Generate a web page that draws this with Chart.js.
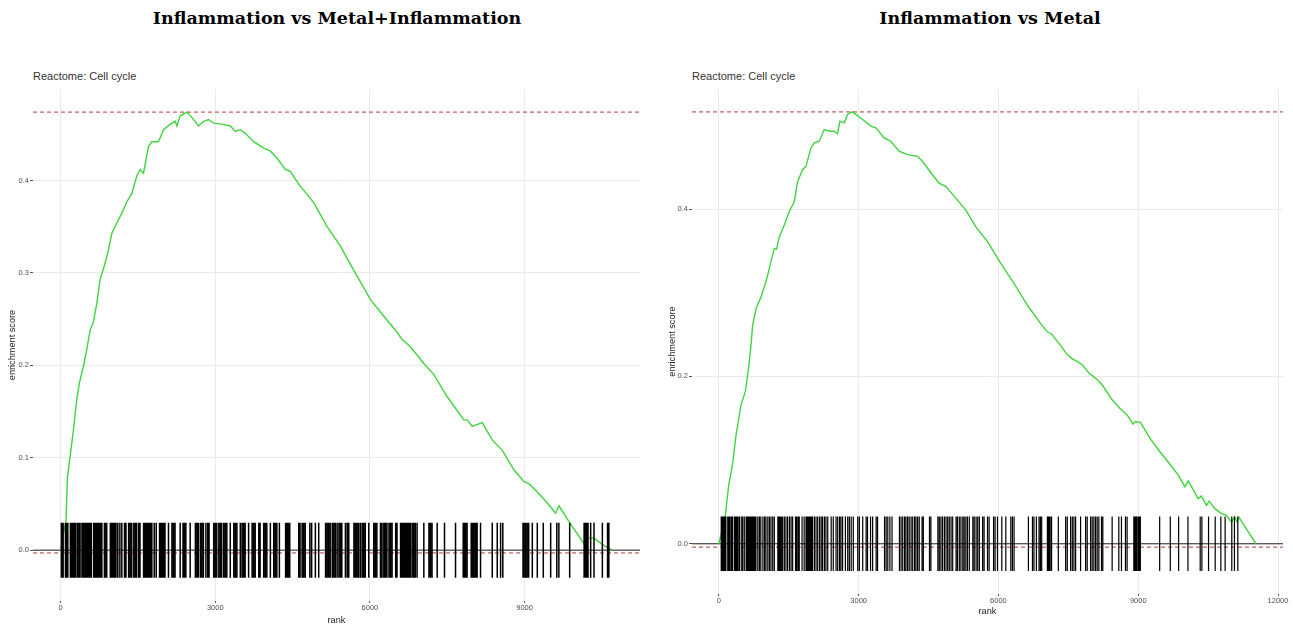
<!DOCTYPE html>
<html>
<head>
<meta charset="utf-8">
<script src="https://cdn.jsdelivr.net/npm/chart.js@4.4.1/dist/chart.umd.min.js"></script>
<style>
  body { margin: 0; background: #fff; width: 1293px; height: 626px; position: relative; overflow: hidden; }
  .title { position: absolute; top: 8px; line-height: 20px; font: bold 17.5px "DejaVu Serif", serif; color: #000; transform: translateX(-50%); white-space: nowrap; }
  .sub { position: absolute; top: 70px; font: 11px "Liberation Sans", Arial, sans-serif; color: #333; white-space: nowrap; }
  .panel { position: absolute; top: 60px; height: 566px; }
</style>
</head>
<body>
<div class="title" style="left:337px">Inflammation vs Metal+Inflammation</div>
<div class="title" style="left:990px">Inflammation vs Metal</div>
<div class="sub" style="left:33px">Reactome: Cell cycle</div>
<div class="sub" style="left:692px">Reactome: Cell cycle</div>
<div class="panel" style="left:0;width:646px"><canvas id="left"></canvas></div>
<div class="panel" style="left:650px;width:643px"><canvas id="right"></canvas></div>
<script>
// running enrichment score (rank, ES)
const leftRank = [0, 107, 132, 184, 249, 314, 365, 443, 508, 573, 637, 703, 767, 845, 929, 994, 1091, 1189, 1285, 1382,
  1480, 1544, 1608, 1705, 1771, 1900, 1997, 2127, 2224, 2256, 2320, 2450, 2548, 2677, 2774, 2871, 2968, 3130, 3292, 3389,
  3486, 3583, 3745, 3939, 4068, 4199, 4360, 4457, 4618, 4910, 5170, 5428, 5686, 6011, 6302, 6496, 6626, 6787, 7046, 7240,
  7500, 7822, 7888, 7985, 8180, 8374, 8568, 8794, 8988, 9085, 9248, 9442, 9603, 9667, 9862, 10153, 10218, 10347, 10541, 10704];
const leftES = [0.0, 0.033, 0.079, 0.101, 0.130, 0.163, 0.181, 0.199, 0.217, 0.238, 0.247, 0.267, 0.293, 0.307, 0.325, 0.343, 0.354, 0.365, 0.377, 0.386,
  0.405, 0.412, 0.408, 0.437, 0.442, 0.442, 0.455, 0.461, 0.464, 0.459, 0.470, 0.474, 0.468, 0.459, 0.464, 0.466, 0.462, 0.461, 0.459, 0.453,
  0.455, 0.451, 0.442, 0.435, 0.432, 0.424, 0.412, 0.410, 0.396, 0.376, 0.350, 0.329, 0.303, 0.271, 0.251, 0.238, 0.228, 0.220, 0.202, 0.190,
  0.166, 0.141, 0.141, 0.134, 0.138, 0.119, 0.108, 0.087, 0.074, 0.072, 0.063, 0.051, 0.040, 0.048, 0.031, 0.007, 0.013, 0.013, 0.005, 0.0];

const rightRank = [0, 139, 210, 296, 368, 476, 568, 639, 690, 725, 797, 904, 1011, 1082, 1189, 1239, 1297, 1404, 1511, 1618,
  1690, 1797, 1869, 1976, 2047, 2154, 2261, 2368, 2475, 2546, 2597, 2690, 2761, 2855, 2940, 3083, 3262, 3369, 3547, 3690,
  3868, 4047, 4261, 4368, 4582, 4725, 4868, 5083, 5297, 5511, 5765, 6051, 6336, 6621, 6907, 7049, 7135, 7291, 7477, 7584,
  7691, 7798, 7941, 8084, 8226, 8440, 8619, 8761, 8890, 8940, 9047, 9253, 9467, 9681, 9859, 10002, 10073, 10287, 10358, 10465,
  10523, 10645, 10787, 10894, 11001, 11073, 11122, 11158, 11530];
const rightES = [0.0, 0.034, 0.070, 0.096, 0.130, 0.166, 0.182, 0.210, 0.238, 0.261, 0.281, 0.295, 0.313, 0.329, 0.353, 0.352, 0.367, 0.381, 0.397, 0.409,
  0.433, 0.447, 0.451, 0.473, 0.479, 0.481, 0.495, 0.493, 0.493, 0.490, 0.505, 0.503, 0.513, 0.516, 0.513, 0.507, 0.499, 0.497, 0.485, 0.481,
  0.469, 0.465, 0.463, 0.457, 0.441, 0.431, 0.427, 0.413, 0.399, 0.379, 0.361, 0.335, 0.311, 0.285, 0.263, 0.253, 0.251, 0.240, 0.226, 0.221,
  0.218, 0.214, 0.204, 0.198, 0.190, 0.172, 0.161, 0.154, 0.143, 0.146, 0.145, 0.126, 0.110, 0.095, 0.082, 0.068, 0.075, 0.054, 0.057, 0.046,
  0.051, 0.042, 0.036, 0.034, 0.026, 0.032, 0.026, 0.032, 0.0];

// ranks of pathway genes (the barcode)
const leftHits = [15, 35, 50, 95, 115, 140, 190, 210, 235, 255, 280, 295, 330, 360, 378, 415, 435, 455, 475, 495, 515, 535, 555, 575, 595,
  640, 660, 680, 700, 720, 740, 760, 780, 800, 850, 880, 895, 965, 990, 1010, 1035, 1055, 1075, 1110, 1150, 1188, 1240, 1268,
  1320, 1350, 1380, 1420, 1450, 1475, 1515, 1540, 1610, 1630, 1650, 1670, 1690, 1710, 1730, 1750, 1770, 1816, 1855, 1920, 1940,
  1960, 1980, 2000, 2025, 2093, 2160, 2190, 2220, 2320, 2375, 2400, 2430, 2514, 2615, 2645, 2670, 2710, 2740, 2770, 2819, 2855,
  2880, 2970, 3000, 3030, 3070, 3100, 3125, 3165, 3195, 3225, 3291, 3360, 3390, 3420, 3486, 3520, 3550, 3580, 3647, 3715, 3745,
  3775, 3845, 3870, 3940, 3970, 4000, 4069, 4135, 4165, 4195, 4244, 4365, 4385, 4405, 4425, 4445, 4620, 4645, 4685, 4715, 4745,
  4835, 4870, 4942, 5007, 5140, 5170, 5200, 5230, 5270, 5300, 5330, 5365, 5400, 5430, 5455, 5525, 5560, 5590, 5690, 5720, 5750,
  5780, 5815, 5850, 5880, 5910, 5978, 6075, 6105, 6135, 6205, 6235, 6270, 6285, 6300, 6330, 6370, 6400, 6430, 6500, 6525, 6595,
  6615, 6635, 6655, 6675, 6695, 6715, 6735, 6760, 6785, 6820, 6850, 6880, 6915, 7046, 7145, 7175, 7205, 7305, 7447, 7661, 7810,
  7830, 7855, 7885, 7965, 7990, 8010, 8040, 8060, 8080, 8146, 8373, 8470, 8535, 8578, 8970, 8990, 9020, 9050, 9080, 9150, 9247,
  9363, 9506, 9625, 9665, 9875, 10155, 10180, 10205, 10230, 10282, 10347, 10509, 10610, 10635];

const rightHits = [50, 75, 100, 125, 150, 190, 215, 240, 270, 295, 335, 360, 385, 410, 440, 480, 510, 545, 585, 605, 625, 645, 665,
  685, 705, 725, 750, 775, 795, 835, 870, 900, 945, 980, 1010, 1050, 1085, 1118, 1155, 1190, 1265, 1290, 1315, 1340, 1368, 1405,
  1440, 1475, 1515, 1550, 1583, 1645, 1670, 1700, 1725, 1785, 1830, 1870, 1890, 1910, 1930, 1950, 1970, 1990, 2010, 2050, 2085,
  2120, 2160, 2195, 2225, 2265, 2298, 2336, 2410, 2455, 2515, 2550, 2590, 2620, 2655, 2715, 2765, 2800, 2840, 2885, 2980, 3015,
  3087, 3160, 3190, 3255, 3300, 3375, 3405, 3555, 3590, 3625, 3670, 3716, 3875, 3910, 3945, 3985, 4015, 4050, 4085, 4125, 4160,
  4200, 4230, 4265, 4300, 4360, 4388, 4520, 4550, 4700, 4730, 4765, 4800, 4840, 4875, 4910, 4945, 4983, 5018, 5090, 5120, 5160,
  5195, 5235, 5265, 5300, 5335, 5375, 5450, 5480, 5520, 5555, 5590, 5660, 5692, 5765, 5800, 5895, 5928, 5979, 6072, 6158, 6265,
  6300, 6335, 6643, 6730, 6762, 6814, 6870, 6900, 6928, 7050, 7070, 7090, 7110, 7140, 7285, 7442, 7477, 7548, 7585, 7620, 7656,
  7763, 7870, 7905, 7977, 8012, 8048, 8084, 8119, 8155, 8212, 8240, 8440, 8583, 8640, 8726, 8761, 8905, 8925, 8945, 8970, 9000,
  9020, 9045, 9460, 9688, 9867, 10067, 10330, 10366, 10509, 10652, 10773, 10865, 11008, 11065, 11137];

// max / min lines and barcode half height
const leftTop = 0.474, leftBottom = -0.003, leftTick = 0.0298;
const rightTop = 0.516, rightBottom = -0.004, rightTick = 0.0326;

const leftXTicks = [0, 3000, 6000, 9000];
const rightXTicks = [0, 3000, 6000, 9000, 12000];
const leftYTicks = [0.0, 0.1, 0.2, 0.3, 0.4];
const rightYTicks = [0.0, 0.2, 0.4];

Chart.defaults.font.family = '"Liberation Sans", Arial, sans-serif';

function curvePoints(ranks, es) {
  return ranks.map((r, i) => ({ x: r, y: es[i] }));
}

function rugPoints(hits, half) {
  const pts = [];
  for (const h of hits) pts.push({ x: h, y: -half }, { x: h, y: half }, { x: h, y: null });
  return pts;
}

function hline(y, x0, x1) {
  return [{ x: x0, y }, { x: x1, y }];
}

function makePanel(id, p) {
  const flat = { showLine: true, pointRadius: 0, fill: false, borderWidth: 1 };
  new Chart(document.getElementById(id), {
    type: "scatter",
    data: {
      datasets: [
        { ...flat, data: rugPoints(p.hits, p.tick), borderColor: "#000", borderWidth: p.rugWidth, borderCapStyle: "butt", spanGaps: false },
        { ...flat, data: curvePoints(p.ranks, p.es), borderColor: "#3fd43f", borderWidth: 1.4 },
        { ...flat, data: hline(0, p.xmin, p.xmax), borderColor: "#222" },
        { ...flat, data: hline(p.bottom, p.xmin, p.xmax), borderColor: "#b23a3a", borderDash: [4, 3] },
        { ...flat, data: hline(p.top, p.xmin, p.xmax), borderColor: "#b23a3a", borderDash: [4, 3] },
      ],
    },
    options: {
      responsive: true,
      maintainAspectRatio: false,
      animation: false,
      events: [],
      layout: { padding: { left: 0, right: p.padRight, top: 29, bottom: 0 } },
      plugins: { legend: { display: false }, tooltip: { enabled: false } },
      scales: {
        x: {
          type: "linear",
          min: p.xmin,
          max: p.xmax,
          afterBuildTicks: (s) => { s.ticks = p.xTicks.map((v) => ({ value: v })); },
          afterFit: (s) => { s.height = p.xAxisHeight; },
          grid: { color: "#ebebeb", tickLength: 2, tickColor: "#555" },
          border: { display: false },
          ticks: { color: "#4d4d4d", font: { size: 7.5 }, padding: 0, maxRotation: 0, autoSkip: false, callback: (v) => String(v) },
          title: { display: true, text: "rank", color: "#222", font: { size: 9.2 }, padding: { top: 0, bottom: p.rankPad } },
        },
        y: {
          min: p.ymin,
          max: p.ymax,
          afterBuildTicks: (s) => { s.ticks = p.yTicks.map((v) => ({ value: v })); },
          afterFit: (s) => { s.width = p.yAxisWidth; },
          grid: { color: "#ebebeb", tickLength: 3, tickColor: "#555" },
          border: { display: false },
          ticks: { color: "#4d4d4d", font: { size: 7.5 }, padding: 1, callback: (v) => v.toFixed(1) },
          title: { display: true, text: "enrichment score", color: "#222", font: { size: 9.2 }, padding: { top: p.esPad, bottom: 0 } },
        },
      },
    },
  });
}

makePanel("left", {
  ranks: leftRank, es: leftES, hits: leftHits, tick: leftTick, top: leftTop, bottom: leftBottom,
  xTicks: leftXTicks, yTicks: leftYTicks, xmin: -535, xmax: 11239, ymin: -0.055, ymax: 0.499,
  rugWidth: 1.5, padRight: 6, xAxisHeight: 25, yAxisWidth: 33, rankPad: 0, esPad: 7,
});

makePanel("right", {
  ranks: rightRank, es: rightES, hits: rightHits, tick: rightTick, top: rightTop, bottom: rightBottom,
  xTicks: rightXTicks, yTicks: rightYTicks, xmin: -577, xmax: 12107, ymin: -0.060, ymax: 0.5434,
  rugWidth: 1.2, padRight: 10, xAxisHeight: 32, yAxisWidth: 42, rankPad: 9, esPad: 17,
});
</script>
</body>
</html>
